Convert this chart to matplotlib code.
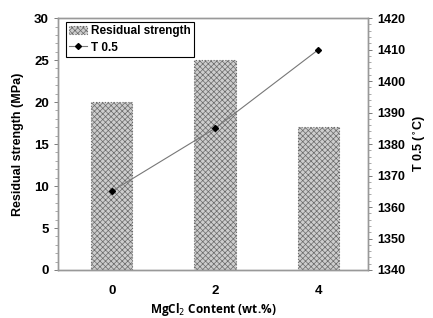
import matplotlib
matplotlib.use("Agg")
import matplotlib.pyplot as plt
from matplotlib.ticker import MultipleLocator

categories = ["0", "2", "4"]
residual_strength = [20, 25, 17]
t05 = [1365, 1385, 1410]

plt.rcParams['font.family'] = ['Liberation Sans', 'DejaVu Sans']
plt.rcParams['hatch.color'] = '#bcbcbc'
plt.rcParams['hatch.linewidth'] = 0.5

fig = plt.figure(figsize=(4.33, 3.18), dpi=100)
ax = fig.add_axes([0.134, 0.151, 0.716, 0.792])
x = list(range(len(categories)))
bars = ax.bar(x, residual_strength, width=0.4, facecolor='#cdcdcd', edgecolor='#6a6a6a',
              hatch='xxxxxx', linewidth=0.8, linestyle=':', label='Residual strength', zorder=2)
ax.set_xlim(-0.52, 2.48)
ax.set_ylim(0, 30)
ax.set_xticks(x)
ax.set_xticklabels(categories, fontweight='bold', fontsize=9)
ax.yaxis.set_major_locator(MultipleLocator(5))
ax.yaxis.set_minor_locator(MultipleLocator(1))
ax.tick_params(axis='y', which='major', direction='out', length=3, width=0.6, color='#666', labelsize=9.5)
ax.tick_params(axis='y', which='minor', direction='out', length=2, width=0.5, color='#888')
ax.tick_params(axis='x', length=0, pad=11, labelsize=9.5)
for lbl in ax.get_yticklabels():
    lbl.set_fontweight('bold')
ax.set_ylabel('Residual strength (MPa)', fontweight='bold', fontsize=9, labelpad=7)
ax.set_xlabel('MgCl$_2$ Content (wt.%)', fontweight='bold', fontsize=8.5, labelpad=3,
              fontfamily='Open Sans')
for s in ax.spines.values():
    s.set_color('#999999')
    s.set_linewidth(1.0)

ax2 = ax.twinx()
line, = ax2.plot(x, t05, color='#777777', linewidth=0.8, marker='D', markersize=3,
                 markerfacecolor='black', markeredgecolor='black', label='T 0.5', zorder=3)
ax2.set_ylim(1340, 1420)
ax2.yaxis.set_major_locator(MultipleLocator(10))
ax2.yaxis.set_minor_locator(MultipleLocator(2))
ax2.tick_params(axis='y', which='major', direction='out', length=3, width=0.6, color='#666', labelsize=9)
ax2.tick_params(axis='y', which='minor', direction='out', length=2, width=0.5, color='#888')
for lbl in ax2.get_yticklabels():
    lbl.set_fontweight('bold')
ax2.set_ylabel('T 0.5 ($^{\\circ}$C)', fontweight='bold', fontsize=9, labelpad=5)
for s in ax2.spines.values():
    s.set_color('#999999')
    s.set_linewidth(1.0)

leg = ax.legend([bars, line], ['Residual strength', 'T 0.5'], loc='upper left',
                bbox_to_anchor=(0.025, 0.985), prop={'weight': 'bold', 'size': 8.5},
                frameon=True, fancybox=False, edgecolor='black', framealpha=1,
                borderpad=0.3, handlelength=1.5, handletextpad=0.35, labelspacing=0.35,
                borderaxespad=0)
leg.get_frame().set_linewidth(0.8)
leg.set_zorder(5)

fig.savefig('out.png', dpi=100)
